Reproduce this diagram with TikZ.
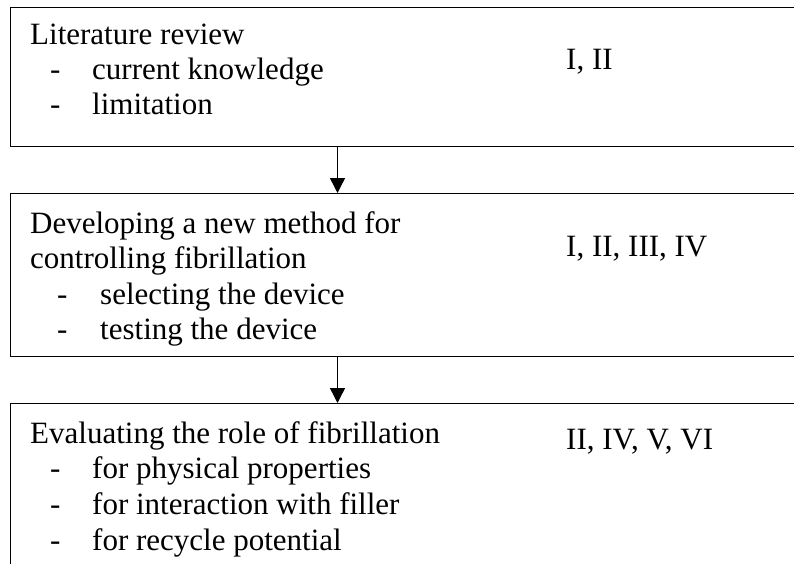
\documentclass[tikz,border=0pt]{standalone}
\usepackage{fontspec}
\setmainfont{Liberation Serif}
\usetikzlibrary{arrows.meta}
\begin{document}
\begin{tikzpicture}[x=1pt,y=-1pt,
  box/.style={draw, line width=1.4pt, rectangle, anchor=north west, inner sep=0pt, minimum width=800pt},
  txt/.style={anchor=base west, inner sep=0pt, font=\fontsize{31}{35}\selectfont},
  conn/.style={line width=1.4pt, -{Triangle[width=15pt,length=15pt]}}]
\useasboundingbox (0,0) rectangle (794,564);
\clip (0,0) rectangle (794,564);
% boxes
\node[box, minimum height=139pt] (b1) at (10,7) {};
\node[box, minimum height=163pt] (b2) at (10,193) {};
\node[box, minimum height=200pt] (b3) at (10,403) {};
% box 1 text
\node[txt] (t1) at (30,45) {Literature review};
\node[txt] (d11) at (50,80) {-};
\node[txt] (i11) at (92,80) {current knowledge};
\node[txt] (d12) at (50,115) {-};
\node[txt] (i12) at (92,115) {limitation};
\node[txt] (r1) at (566,70) {I, II};
% box 2 text
\node[txt] (t2a) at (30,233) {Developing a new method for};
\node[txt] (t2b) at (30,268) {controlling fibrillation};
\node[txt] (d21) at (57,304) {-};
\node[txt] (i21) at (100,304) {selecting the device};
\node[txt] (d22) at (57,339) {-};
\node[txt] (i22) at (100,339) {testing the device};
\node[txt] (r2) at (566,256) {I, II, III, IV};
% box 3 text
\node[txt] (t3) at (30,443) {Evaluating the role of fibrillation};
\node[txt] (d31) at (50,478) {-};
\node[txt] (i31) at (92,478) {for physical properties};
\node[txt] (d32) at (50,514) {-};
\node[txt] (i32) at (92,514) {for interaction with filler};
\node[txt] (d33) at (50,550) {-};
\node[txt] (i33) at (92,550) {for recycle potential};
\node[txt] (r3) at (566,449) {II, IV, V, VI};
% connectors
\coordinate (ax) at (337.5,0);
\draw[conn] (b1.south -| ax) -- (b2.north -| ax);
\draw[conn] (b2.south -| ax) -- (b3.north -| ax);
\end{tikzpicture}
\end{document}
